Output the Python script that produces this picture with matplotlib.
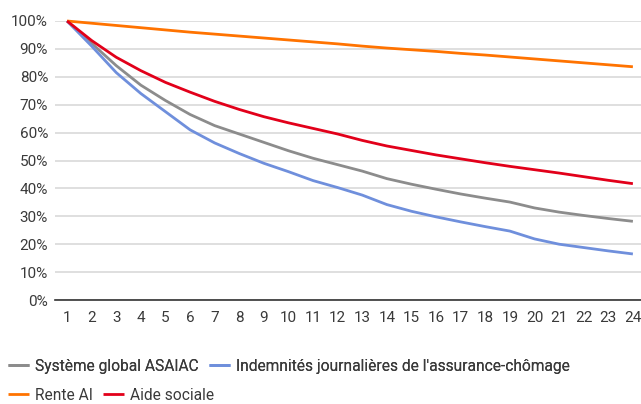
import matplotlib.pyplot as plt
from matplotlib.ticker import FuncFormatter

plt.rcParams['font.family'] = ['Roboto', 'DejaVu Sans']

months = list(range(1, 25))

# share still receiving benefits (%)
asaiac = [100, 92, 84, 77, 71.5, 66.5, 62.5, 59.5, 56.5, 53.5, 50.8, 48.5,
          46.2, 43.5, 41.5, 39.7, 38, 36.5, 35.1, 33, 31.5, 30.3, 29.2, 28.2]
chomage = [100, 91, 81.5, 74, 67.5, 61, 56.3, 52.5, 49, 46, 42.8, 40.3,
           37.6, 34.2, 31.8, 29.8, 28, 26.3, 24.7, 21.9, 20, 18.8, 17.6, 16.5]
rente_ai = [100, 99.2, 98.4, 97.6, 96.8, 96.0, 95.3, 94.6, 93.9, 93.2, 92.5, 91.8,
            91.0, 90.3, 89.7, 89.1, 88.4, 87.8, 87.1, 86.4, 85.7, 85.0, 84.3, 83.6]
aide_sociale = [100, 93, 87, 82.2, 78, 74.5, 71.2, 68.3, 65.7, 63.5, 61.5, 59.5,
                57.2, 55.2, 53.6, 52, 50.6, 49.2, 47.9, 46.7, 45.5, 44.2, 42.9, 41.7]

labels = ["Système global ASAIAC", "Indemnités journalières de l'assurance-chômage",
          "Rente AI", "Aide sociale"]
colors = ["#8c8c8c", "#6f8fdc", "#ff7300", "#e2001a"]

fig = plt.figure(figsize=(6.41, 4.04), dpi=100)
ax = fig.add_axes([55/641, 1 - 300/404, 586/641, 279/404])

lines = []
for data, lab, col in zip([asaiac, chomage, rente_ai, aide_sociale], labels, colors):
    l, = ax.plot(months, data, color=col, lw=2.0, label=lab, clip_on=False,
                 solid_capstyle='butt', zorder=3)
    lines.append(l)

ax.set_xlim(0.51, 24.33)
ax.set_ylim(0, 100)
ax.set_xticks(months)
ax.set_yticks(range(0, 101, 10))
ax.yaxis.set_major_formatter(FuncFormatter(lambda v, p: "%d%%" % v))
ax.grid(axis='y', color='#d9d9d9', lw=1.2)
ax.set_axisbelow(True)
for s in ['top', 'right', 'left']:
    ax.spines[s].set_visible(False)
ax.spines['bottom'].set_color('#333333')
ax.spines['bottom'].set_linewidth(1.2)
ax.tick_params(length=0, labelsize=11, colors='#3a3a3a')
ax.tick_params(axis='x', pad=8)
ax.tick_params(axis='y', pad=5)

kw = dict(loc='center left', ncol=2, frameon=False, fontsize=11.2, handlelength=1.35,
          handletextpad=0.4, columnspacing=0.65, borderaxespad=0, borderpad=0)
leg1 = fig.legend(lines[:2], labels[:2], bbox_to_anchor=(8/641, 1 - 366/404), **kw)
leg2 = fig.legend(lines[2:], labels[2:], bbox_to_anchor=(8/641, 1 - 395/404), **kw)
fig.add_artist(leg1)
for leg in (leg1, leg2):
    for t in leg.get_texts():
        t.set_color('#3a3a3a')

fig.savefig('out.png', dpi=100)
